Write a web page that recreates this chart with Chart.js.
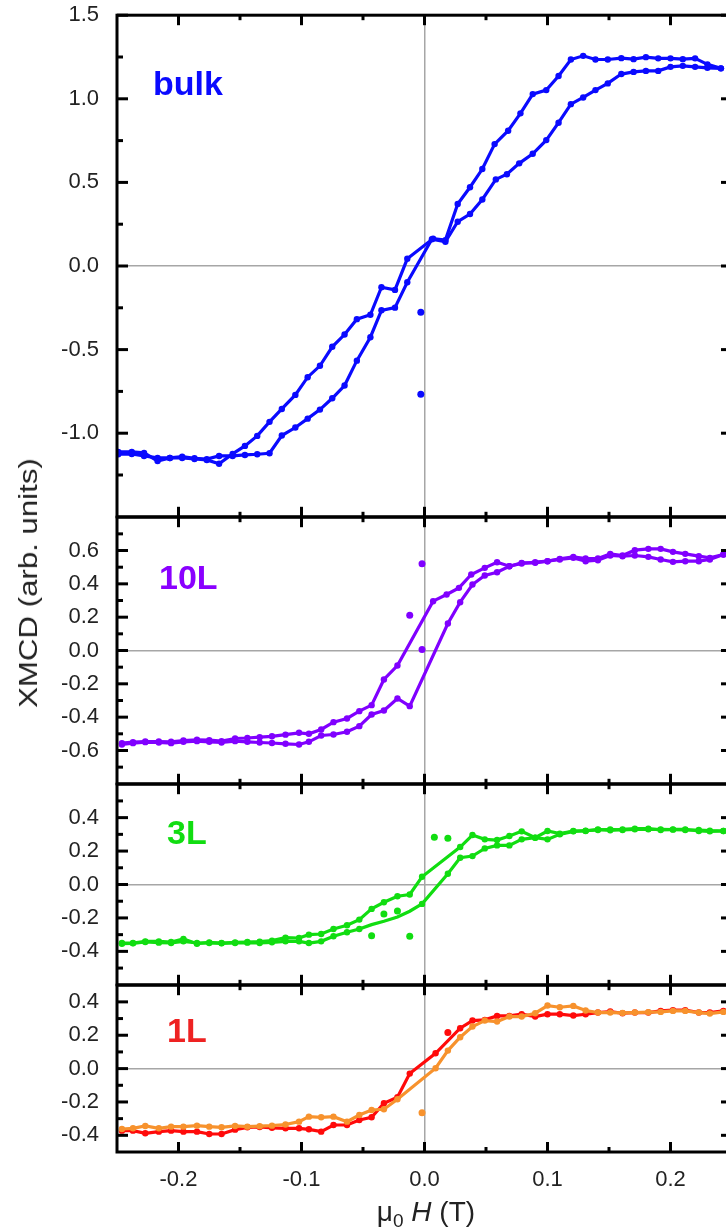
<!DOCTYPE html>
<html>
<head>
<meta charset="utf-8">
<script src="https://cdn.jsdelivr.net/npm/chart.js@4.4.1/dist/chart.umd.min.js"></script>
<style>
  html, body { margin: 0; padding: 0; background: #fff; overflow: hidden; }
  #fig { position: relative; width: 726px; height: 1231px; overflow: hidden;
         font-family: "Liberation Sans", Arial, sans-serif; color: #222; }
  #fig canvas { position: absolute; left: 0; }
  .tag { position: absolute; font-weight: bold; font-size: 34px; line-height: 34px; white-space: nowrap; }
  #ytitle { position: absolute; left: 28px; top: 583px; font-size: 26px; line-height: 26px; white-space: nowrap;
            transform: translate(-50%, -50%) rotate(-90deg) scaleX(1.2); }
  #xtitle { position: absolute; left: 326px; width: 200px; top: 1198px; text-align: center;
            font-size: 28px; line-height: 28px; white-space: nowrap; }
  #xtitle sub { font-size: 19px; vertical-align: -6px; }
</style>
</head>
<body>
<div id="fig">
  <canvas id="pBulk"></canvas>
  <canvas id="p10"></canvas>
  <canvas id="p3"></canvas>
  <canvas id="p1"></canvas>
  <div class="tag" style="left:153px;top:66px;color:#0a0aff">bulk</div>
  <div class="tag" style="left:159px;top:560px;color:#8a00ff">10L</div>
  <div class="tag" style="left:167px;top:815px;color:#11dd11">3L</div>
  <div class="tag" style="left:167px;top:1013px;color:#ee2222">1L</div>
  <div id="ytitle">XMCD (arb. units)</div>
  <div id="xtitle">&mu;<sub>0</sub> <i>H</i> (T)</div>
</div>
<script>
// field axis (T)
const fieldMin = -0.25, fieldMax = 0.25;
const fieldTicks = [-0.2, -0.1, 0, 0.1, 0.2];
const fieldMinor = [-0.15, -0.05, 0.05, 0.15];

// y tick values per panel
const bulkTicks = [-1.0, -0.5, 0, 0.5, 1.0, 1.5];
const bulkMinor = [-1.25, -0.75, -0.25, 0.25, 0.75, 1.25];
const l10Ticks = [-0.6, -0.4, -0.2, 0, 0.2, 0.4, 0.6];
const l10Minor = [-0.7, -0.5, -0.3, -0.1, 0.1, 0.3, 0.5, 0.7];
const l3Ticks = [-0.4, -0.2, 0, 0.2, 0.4];
const l3Minor = [-0.5, -0.3, -0.1, 0.1, 0.3, 0.5];
const l1Ticks = [-0.4, -0.2, 0, 0.2, 0.4];
const l1Minor = [-0.3, -0.1, 0.1, 0.3];

// bulk
const fldBulkA = [-0.249,-0.238,-0.228,-0.217,-0.207,-0.197,-0.187,-0.177,-0.167,-0.156,-0.146,-0.136,-0.126,-0.116,-0.105,-0.095,-0.085,-0.075,-0.065,-0.055,-0.044,-0.035,-0.024,-0.014,
  0.007,0.017,0.027,0.037,0.047,0.057,0.068,0.078,0.088,0.099,0.109,0.119,0.129,0.139,0.149,0.160,0.170,0.180,0.190,0.200,0.210,0.220,0.230,0.241];
const xmcdBulkA = [-1.112,-1.112,-1.118,-1.166,-1.148,-1.148,-1.154,-1.160,-1.183,-1.124,-1.076,-1.016,-0.932,-0.855,-0.771,-0.665,-0.597,-0.483,-0.410,-0.318,-0.292,-0.127,-0.143,0.043,
  0.164,0.155,0.371,0.471,0.580,0.729,0.809,0.913,1.028,1.052,1.136,1.235,1.257,1.235,1.235,1.243,1.237,1.249,1.242,1.242,1.237,1.242,1.206,1.182];
const fldBulkB = [-0.249,-0.238,-0.228,-0.217,-0.207,-0.197,-0.187,-0.177,-0.167,-0.156,-0.146,-0.136,-0.126,-0.116,-0.105,-0.095,-0.085,-0.075,-0.065,-0.055,-0.044,-0.035,-0.024,-0.014,
  0.006,0.017,0.027,0.037,0.047,0.058,0.067,0.077,0.088,0.099,0.109,0.119,0.129,0.139,0.149,0.160,0.170,0.180,0.190,0.200,0.210,0.220,0.230,0.241];
const xmcdBulkB = [-1.126,-1.124,-1.136,-1.148,-1.148,-1.140,-1.150,-1.155,-1.136,-1.136,-1.130,-1.126,-1.120,-1.014,-0.966,-0.913,-0.859,-0.791,-0.715,-0.566,-0.426,-0.265,-0.249,-0.097,
  0.160,0.145,0.265,0.311,0.398,0.518,0.549,0.614,0.671,0.753,0.857,0.968,1.008,1.052,1.092,1.148,1.161,1.167,1.167,1.191,1.197,1.191,1.185,1.182];
const fldBulkOdd = [-0.003, -0.003];
const xmcdBulkOdd = [-0.277, -0.767];

// 10L
const fld10A = [-0.246,-0.237,-0.227,-0.216,-0.206,-0.196,-0.185,-0.175,-0.165,-0.154,-0.144,-0.134,-0.124,-0.113,
  -0.102,-0.094,-0.084,-0.074,-0.063,-0.053,-0.043,-0.033,-0.022,
  0.007,0.018,0.028,0.038,0.049,0.059,0.069,0.079,0.090,
  0.100,0.110,0.121,0.131,0.141,0.151,0.161,0.171,0.182,0.192,0.202,0.212,0.223,0.232,0.243];
const xmcd10A = [-0.556,-0.550,-0.546,-0.546,-0.548,-0.540,-0.536,-0.538,-0.544,-0.528,-0.525,-0.520,-0.515,-0.505,
  -0.494,-0.500,-0.474,-0.430,-0.408,-0.364,-0.328,-0.174,-0.090,
  0.296,0.336,0.376,0.456,0.496,0.530,0.506,0.526,0.526,
  0.536,0.550,0.562,0.552,0.552,0.580,0.570,0.602,0.610,0.610,0.592,0.580,0.566,0.556,0.576];
const fld10B = [-0.246,-0.237,-0.227,-0.216,-0.206,-0.196,-0.185,-0.175,-0.165,-0.154,-0.144,-0.134,-0.124,-0.113,
  -0.102,-0.094,-0.084,-0.074,-0.063,-0.053,-0.043,-0.033,-0.022,-0.012,
  0.019,0.029,0.039,0.049,0.059,0.069,0.079,0.090,
  0.100,0.110,0.121,0.131,0.141,0.151,0.161,0.171,0.182,0.192,0.202,0.212,0.223,0.232,0.243];
const xmcd10B = [-0.564,-0.556,-0.550,-0.552,-0.556,-0.548,-0.544,-0.548,-0.552,-0.544,-0.548,-0.552,-0.555,-0.560,
  -0.564,-0.548,-0.510,-0.504,-0.488,-0.454,-0.384,-0.360,-0.288,-0.334,
  0.162,0.290,0.396,0.450,0.470,0.506,0.522,0.530,
  0.536,0.546,0.556,0.536,0.542,0.570,0.566,0.570,0.562,0.546,0.532,0.536,0.536,0.546,0.576];
const fld10Odd = [-0.002, -0.012, -0.002];
const xmcd10Odd = [0.520, 0.212, 0.006];

// 3L
const fld3A = [-0.246,-0.237,-0.227,-0.216,-0.206,-0.196,-0.185,-0.175,-0.165,-0.154,-0.144,-0.134,-0.124,-0.113,
  -0.102,-0.094,-0.084,-0.074,-0.063,-0.053,-0.043,-0.033,-0.022,-0.012,-0.002,
  0.029,0.039,0.049,0.059,0.069,0.079,0.090,0.100,0.110,
  0.121,0.131,0.141,0.151,0.161,0.171,0.182,0.192,0.202,0.212,0.223,0.232,0.243];
const xmcd3A = [-0.350,-0.350,-0.340,-0.340,-0.344,-0.326,-0.354,-0.346,-0.350,-0.346,-0.344,-0.342,-0.336,-0.318,
  -0.320,-0.300,-0.296,-0.266,-0.244,-0.210,-0.146,-0.106,-0.070,-0.060,0.046,
  0.224,0.296,0.270,0.266,0.290,0.318,0.280,0.320,0.304,
  0.320,0.320,0.330,0.324,0.330,0.334,0.334,0.326,0.330,0.330,0.320,0.318,0.320];
const fld3B1 = [-0.246,-0.237,-0.227,-0.216,-0.206,-0.196,-0.185,-0.175,-0.165,-0.154,-0.144,-0.134,-0.124,-0.113,
  -0.102,-0.094,-0.084,-0.074,-0.063,-0.053];
const xmcd3B1 = [-0.354,-0.352,-0.344,-0.348,-0.350,-0.340,-0.350,-0.350,-0.352,-0.350,-0.348,-0.350,-0.346,-0.340,
  -0.340,-0.350,-0.340,-0.310,-0.286,-0.266];
const fld3B2 = [-0.053,-0.043,-0.033,-0.022,-0.012,-0.002];
const xmcd3B2 = [-0.266,-0.240,-0.220,-0.194,-0.160,-0.116];
const fld3B3 = [-0.002,0.019,0.029,0.039,0.049,0.059,0.069,0.079,0.090,0.100,0.110,
  0.121,0.131,0.141,0.151,0.161,0.171,0.182,0.192,0.202,0.212,0.223,0.232,0.243];
const xmcd3B3 = [-0.116,0.064,0.160,0.170,0.216,0.234,0.234,0.270,0.280,0.270,0.300,
  0.318,0.322,0.326,0.330,0.326,0.330,0.330,0.330,0.328,0.326,0.326,0.322,0.320];
const fld3Odd = [0.008, 0.019, -0.033, -0.022, -0.043, -0.012];
const xmcd3Odd = [0.282, 0.276, -0.176, -0.158, -0.306, -0.310];

// 1L (two sweeps)
const fld1O = [-0.246,-0.237,-0.227,-0.216,-0.206,-0.196,-0.185,-0.175,-0.165,-0.154,-0.144,-0.134,-0.124,-0.113,
  -0.102,-0.094,-0.084,-0.074,-0.063,-0.053,-0.043,-0.033,-0.022,
  0.009,0.019,0.029,0.039,0.049,0.059,0.069,0.079,0.090,
  0.100,0.110,0.121,0.131,0.141,0.151,0.161,0.171,0.182,0.192,0.202,0.212,0.223,0.232,0.243];
const xmcd1O = [-0.362,-0.358,-0.344,-0.358,-0.348,-0.348,-0.342,-0.348,-0.352,-0.344,-0.348,-0.345,-0.342,-0.335,
  -0.318,-0.288,-0.292,-0.288,-0.318,-0.278,-0.248,-0.244,-0.184,
  0.002,0.108,0.188,0.252,0.288,0.282,0.312,0.312,0.332,
  0.378,0.368,0.376,0.348,0.336,0.336,0.334,0.336,0.338,0.340,0.346,0.346,0.336,0.330,0.340];
const fld1R = [-0.246,-0.237,-0.227,-0.216,-0.206,-0.196,-0.185,-0.175,-0.165,-0.154,-0.144,-0.134,-0.124,-0.113,
  -0.102,-0.094,-0.084,-0.074,-0.063,-0.053,-0.043,-0.033,-0.022,-0.012,
  0.009,0.029,0.039,0.049,0.059,0.069,0.079,0.090,
  0.100,0.110,0.121,0.131,0.141,0.151,0.161,0.171,0.182,0.192,0.202,0.212,0.223,0.232,0.243];
const xmcd1R = [-0.372,-0.372,-0.388,-0.378,-0.372,-0.378,-0.378,-0.392,-0.392,-0.366,-0.352,-0.350,-0.355,-0.358,
  -0.358,-0.364,-0.378,-0.338,-0.338,-0.308,-0.292,-0.208,-0.172,-0.030,
  0.092,0.242,0.288,0.292,0.316,0.316,0.326,0.312,
  0.326,0.326,0.318,0.326,0.336,0.342,0.332,0.336,0.336,0.346,0.350,0.350,0.336,0.336,0.346];
const fld1OOdd = [-0.002];
const xmcd1OOdd = [-0.264];
const fld1ROdd = [0.019];
const xmcd1ROdd = [0.216];

const BLUE = '#0a0aff', PURPLE = '#8000ff', GREEN = '#11dd11', RED = '#ff0a0a', ORANGE = '#f7922d';

Chart.defaults.font.family = '"Liberation Sans", Arial, sans-serif';
Chart.defaults.font.size = 22;
Chart.defaults.color = '#222';

const pts = (xs, ys) => xs.map((v, i) => ({x: v, y: ys[i]}));
const line = (xs, ys, c) => ({data: pts(xs, ys), showLine: true, borderColor: c, backgroundColor: c,
  borderWidth: 3.2, pointRadius: 3.2, pointBorderWidth: 0, tension: 0});
const bare = (xs, ys, c) => Object.assign(line(xs, ys, c), {pointRadius: 0});
const dots = (xs, ys, c) => ({data: pts(xs, ys), showLine: false, backgroundColor: c, borderColor: c,
  pointRadius: 3.5, pointBorderWidth: 0});

const fmt = v => Math.abs(v) < 1e-9 ? '0.0' : v.toFixed(1);
const zeroGrid = {
  color: c => (c.tick && Math.abs(c.tick.value) < 1e-9) ? '#a6a6a6' : 'rgba(0,0,0,0)',
  lineWidth: 1.5, drawTicks: false
};

// areaTop/areaBottom: wanted pixel rows of the panel frame in the page
function makePanel(id, areaTop, areaBottom, datasets, yMin, yMax, yTicks, yMinor, bottom) {
  const cv = document.getElementById(id);

  const frame = {
    id: 'frame' + id,
    afterDraw(chart) {
      const {ctx, chartArea: a, scales: {x, y}} = chart;
      ctx.save();
      ctx.strokeStyle = '#000';
      ctx.lineWidth = 3;
      const seg = (x1, y1, x2, y2) => { ctx.beginPath(); ctx.moveTo(x1, y1); ctx.lineTo(x2, y2); ctx.stroke(); };
      const xt = (vals, len) => vals.forEach(v => {
        const p = x.getPixelForValue(v);
        seg(p, a.top, p, a.top + len); seg(p, a.bottom, p, a.bottom - len);
      });
      const yt = (vals, len) => vals.forEach(v => {
        const p = y.getPixelForValue(v);
        seg(a.left, p, a.left + len, p); seg(a.right, p, a.right - len, p);
      });
      xt(fieldTicks, 10); xt(fieldMinor, 5);
      yt(yTicks, 11); yt(yMinor, 6);
      ctx.strokeRect(a.left, a.top, a.width, a.height);
      ctx.restore();
    }
  };

  const build = h => {
    cv.width = 736;
    cv.height = h;
    return new Chart(cv, {
      type: 'scatter',
      data: {datasets},
      options: {
        responsive: false, animation: false, events: [],
        layout: {padding: {top: 14, bottom: bottom ? 0 : 14, left: 0, right: 0}},
        plugins: {legend: {display: false}, tooltip: {enabled: false}},
        scales: {
          x: {
            type: 'linear', min: fieldMin, max: fieldMax,
            grid: zeroGrid, border: {display: false},
            afterBuildTicks: s => { s.ticks = fieldTicks.map(v => ({value: v})); },
            ticks: {display: bottom, padding: 15, maxRotation: 0, autoSkip: false, callback: fmt},
            afterFit: s => { s.height = bottom ? 79 : 0; }
          },
          y: {
            type: 'linear', min: yMin, max: yMax,
            grid: zeroGrid, border: {display: false},
            afterBuildTicks: s => { s.ticks = yTicks.map(v => ({value: v})); },
            ticks: {padding: 18, autoSkip: false, callback: fmt},
            afterFit: s => { s.width = 117; }
          }
        }
      },
      plugins: [frame]
    });
  };

  // first pass to measure what the layout adds around the plot area
  const probeH = areaBottom - areaTop + 120;
  let chart = build(probeH);
  const padTop = chart.chartArea.top;
  const padBottom = probeH - chart.chartArea.bottom;
  chart.destroy();
  chart = build(areaBottom - areaTop + padTop + padBottom);
  cv.style.top = (areaTop - padTop) + 'px';
}

makePanel('pBulk', 15, 517, [
  line(fldBulkA, xmcdBulkA, BLUE),
  line(fldBulkB, xmcdBulkB, BLUE),
  dots(fldBulkOdd, xmcdBulkOdd, BLUE)
], -1.5, 1.5, bulkTicks, bulkMinor, false);

makePanel('p10', 517, 784, [
  line(fld10A, xmcd10A, PURPLE),
  line(fld10B, xmcd10B, PURPLE),
  dots(fld10Odd, xmcd10Odd, PURPLE)
], -0.8, 0.8, l10Ticks, l10Minor, false);

makePanel('p3', 784, 985, [
  line(fld3A, xmcd3A, GREEN),
  line(fld3B1, xmcd3B1, GREEN),
  bare(fld3B2, xmcd3B2, GREEN),
  line(fld3B3, xmcd3B3, GREEN),
  dots(fld3Odd, xmcd3Odd, GREEN)
], -0.6, 0.6, l3Ticks, l3Minor, false);

makePanel('p1', 985, 1152, [
  line(fld1O, xmcd1O, ORANGE),
  dots(fld1OOdd, xmcd1OOdd, ORANGE),
  line(fld1R, xmcd1R, RED),
  dots(fld1ROdd, xmcd1ROdd, RED)
], -0.5, 0.5, l1Ticks, l1Minor, true);
</script>
</body>
</html>
